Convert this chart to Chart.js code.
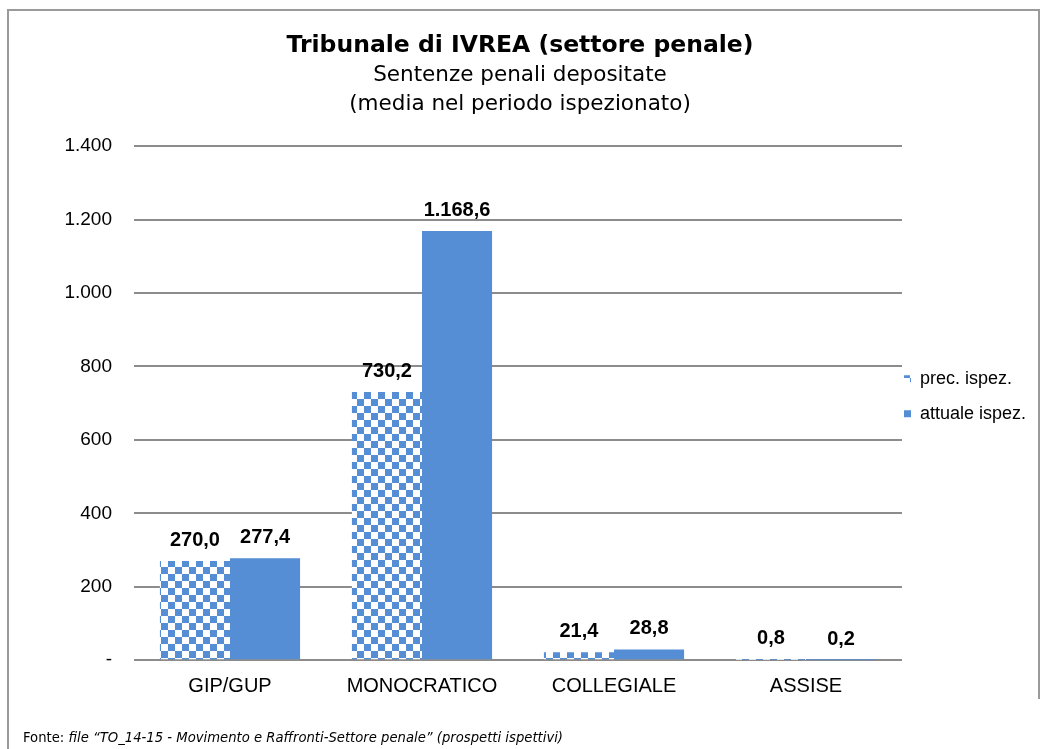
<!DOCTYPE html>
<html>
<head>
<meta charset="utf-8">
<script src="https://cdn.jsdelivr.net/npm/chart.js@4/dist/chart.umd.min.js"></script>
<style>
  html, body { margin: 0; padding: 0; background: #fff; }
  body { width: 1048px; height: 749px; position: relative; overflow: hidden; }
  .frame { position: absolute; left: 7px; top: 9px; width: 1031px; height: 800px;
           border-left: 2px solid #9a9a9a; border-top: 2px solid #9a9a9a; }
  .frame-r { position: absolute; left: 1038px; top: 9px; width: 2px; height: 690px; background: #9a9a9a; }
  #chart { position: absolute; left: 0; top: 0; }
  .fonte { position: absolute; left: 23px; top: 729px; font: 13.2px "DejaVu Sans", Verdana, sans-serif;
           line-height: 18px; color: #000; white-space: nowrap; }
</style>
</head>
<body>
<div class="frame"></div>
<div class="frame-r"></div>
<canvas id="chart" width="1048" height="749"></canvas>
<div class="fonte">Fonte: <i>file “TO_14-15 - Movimento e Raffronti-Settore penale” (prospetti ispettivi)</i></div>

<script>
// ------------------------------------------------------------
//  Daten
// ------------------------------------------------------------
const categories = ['GIP/GUP', 'MONOCRATICO', 'COLLEGIALE', 'ASSISE'];
const seriesNames = ['prec. ispez.', 'attuale ispez.'];
const precIspez = [270.0, 730.2, 21.4, 0.8];
const attualeIspez = [277.4, 1168.6, 28.8, 0.2];
const yTicks = [0, 200, 400, 600, 800, 1000, 1200, 1400];

const BLUE = '#558ed5';

// Schachbrett-Muster für "prec. ispez."
function checkerPattern() {
  const c = document.createElement('canvas');
  c.width = 14; c.height = 14;
  const g = c.getContext('2d');
  g.fillStyle = '#ffffff';
  g.fillRect(0, 0, 14, 14);
  g.fillStyle = BLUE;
  g.fillRect(0, 0, 7, 7);
  g.fillRect(7, 7, 7, 7);
  return g.createPattern(c, 'repeat');
}

const fmtLabel = v => new Intl.NumberFormat('de-DE', {
  minimumFractionDigits: 1, maximumFractionDigits: 1
}).format(v);
const fmtTick = v => v === 0 ? '-' : new Intl.NumberFormat('de-DE').format(v);

// Werte über den Balken
const valueLabels = {
  id: 'valueLabels',
  afterDatasetsDraw(chart) {
    const ctx = chart.ctx;
    ctx.save();
    ctx.font = 'bold 20px "Liberation Sans", Arial, sans-serif';
    ctx.fillStyle = '#000';
    ctx.textAlign = 'center';
    ctx.textBaseline = 'middle';
    chart.data.datasets.forEach((ds, di) => {
      chart.getDatasetMeta(di).data.forEach((el, i) => {
        ctx.fillText(fmtLabel(ds.data[i]), el.x, el.y - 21);
      });
    });
    ctx.restore();
  }
};

// Legende direkt neben die Zeichenfläche setzen
const legendShift = {
  id: 'legendShift',
  afterLayout(chart) {
    const lg = chart.legend;
    const area = chart.chartArea;
    const pad = lg.options.labels.padding;
    const w = lg.right - lg.left;
    lg.left = area.right + 2 - pad;
    lg.right = lg.left + w;
    lg.top = area.top - 7;
    lg.bottom = area.bottom - 7;
  }
};

new Chart(document.getElementById('chart'), {
  type: 'bar',
  data: {
    labels: categories,
    datasets: [
      { label: seriesNames[0], data: precIspez, backgroundColor: checkerPattern(), borderWidth: 0 },
      { label: seriesNames[1], data: attualeIspez, backgroundColor: BLUE, borderWidth: 0 }
    ]
  },
  options: {
    responsive: false,
    animation: false,
    layout: { padding: { left: 0, right: 8, top: 0, bottom: 43.6 } },
    datasets: { bar: { categoryPercentage: 0.73, barPercentage: 1.0 } },
    plugins: {
      title: {
        display: true,
        text: 'Tribunale di IVREA (settore penale)',
        color: '#000',
        font: { family: '"DejaVu Sans", Verdana, sans-serif', size: 23.5, weight: 'bold', lineHeight: 1.2 },
        padding: { top: 31.9, bottom: 0 }
      },
      subtitle: {
        display: true,
        text: ['Sentenze penali depositate', '(media nel periodo ispezionato)'],
        color: '#000',
        font: { family: '"DejaVu Sans", Verdana, sans-serif', size: 21.5, lineHeight: 1.35 },
        padding: { top: 0.4, bottom: 27.5 }
      },
      legend: {
        position: 'right',
        align: 'center',
        maxWidth: 138,
        labels: {
          boxWidth: 7,
          boxHeight: 7,
          padding: 17,
          color: '#000',
          font: { family: '"Liberation Sans", Arial, sans-serif', size: 18 }
        }
      },
      tooltip: { enabled: false }
    },
    scales: {
      x: {
        grid: { display: false },
        border: { display: false },
        ticks: {
          color: '#000',
          padding: 6.6,
          font: { family: '"Liberation Sans", Arial, sans-serif', size: 20 }
        }
      },
      y: {
        min: 0,
        max: 1400,
        afterFit: s => { s.width = 134; },
        afterBuildTicks: s => { s.ticks = yTicks.map(v => ({ value: v })); },
        grid: { color: '#8c8c8c', lineWidth: 2, drawTicks: false },
        border: { display: false },
        ticks: {
          color: '#000',
          padding: 22,
          font: { family: '"Liberation Sans", Arial, sans-serif', size: 19 },
          callback: v => fmtTick(v)
        }
      }
    }
  },
  plugins: [valueLabels, legendShift]
});
</script>
</body>
</html>
